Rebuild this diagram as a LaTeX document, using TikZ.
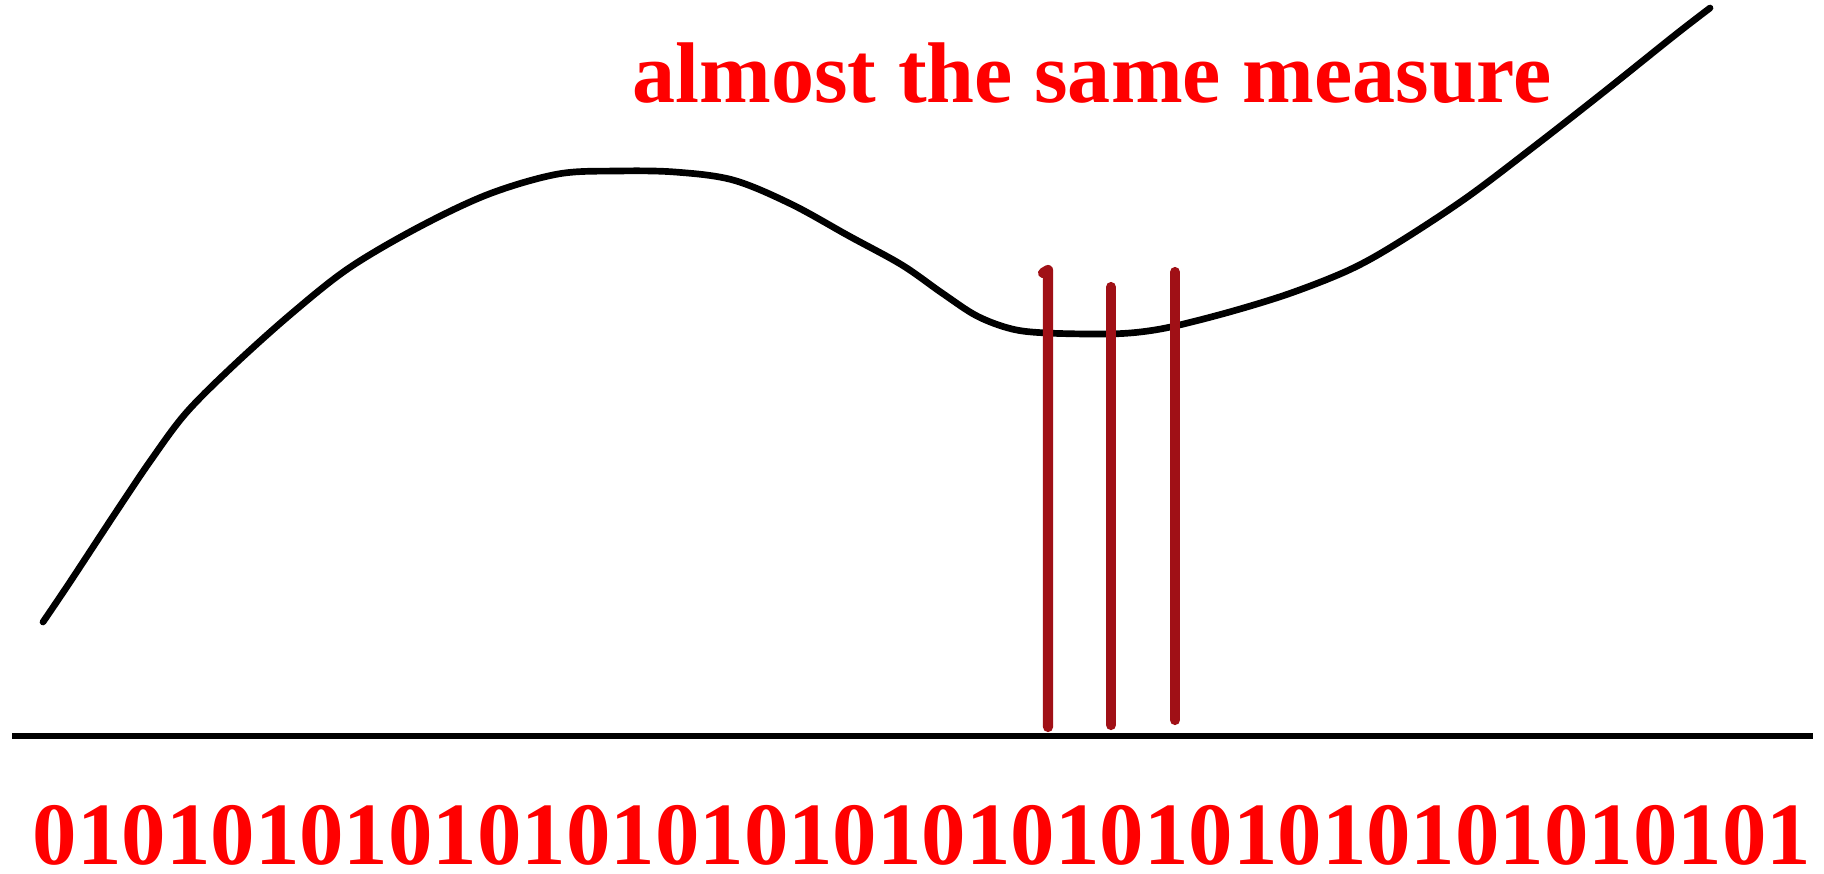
\documentclass[tikz,border=0pt]{standalone}
\usepackage{fontspec}
\setmainfont{Liberation Serif}
\usepackage{xcolor}
\definecolor{barred}{RGB}{160,16,22}
\usetikzlibrary{positioning}

\begin{document}
\begin{tikzpicture}[
  x=0.1mm, y=-0.1mm,
  curve/.style={line width=1.9pt, line cap=round, line join=round, black},
  bar/.style={line width=2.9pt, line cap=round, line join=round, barred},
  axis/.style={line width=1.5pt, black},
  label/.style={inner sep=0pt, anchor=base west, text=red, font=\bfseries}
]
  \useasboundingbox (0,0) rectangle (1824,873);

  % the measured curve
  \draw[curve] plot[smooth, tension=0.55] coordinates {
    (43,622) (70,582) (116,512) (151,460) (186,413) (233,366) (291,314)
    (349,268) (419,227) (489,194) (558,174) (617,171) (675,172) (733,180)
    (791,204) (849,236) (902,265) (942,293) (977,316) (1012,329) (1047,333)
    (1105,334) (1140,332) (1175,326) (1233,311) (1291,293) (1349,270)
    (1396,244) (1466,198) (1536,145) (1605,91) (1675,35) (1710,8)};

  % axis
  \coordinate (axisL) at (12,736);
  \coordinate (axisR) at (1813,736);
  \draw[axis] (axisL) -- (axisR);

  % three nearby samples
  \draw[bar] (1043,273) -- (1048,270) -- (1048,727);
  \draw[bar] (1111,287) -- (1111,725);
  \draw[bar] (1175,272) -- (1175,720);

  \node[label, font=\bfseries\fontsize{24.5}{30}\selectfont] (title) at (632,102) {almost the same measure};
  \node[label, font=\bfseries\fontsize{25.3}{30}\selectfont] (bits) at (32,864) {0101010101010101010101010101010101010101};
\end{tikzpicture}
\end{document}
